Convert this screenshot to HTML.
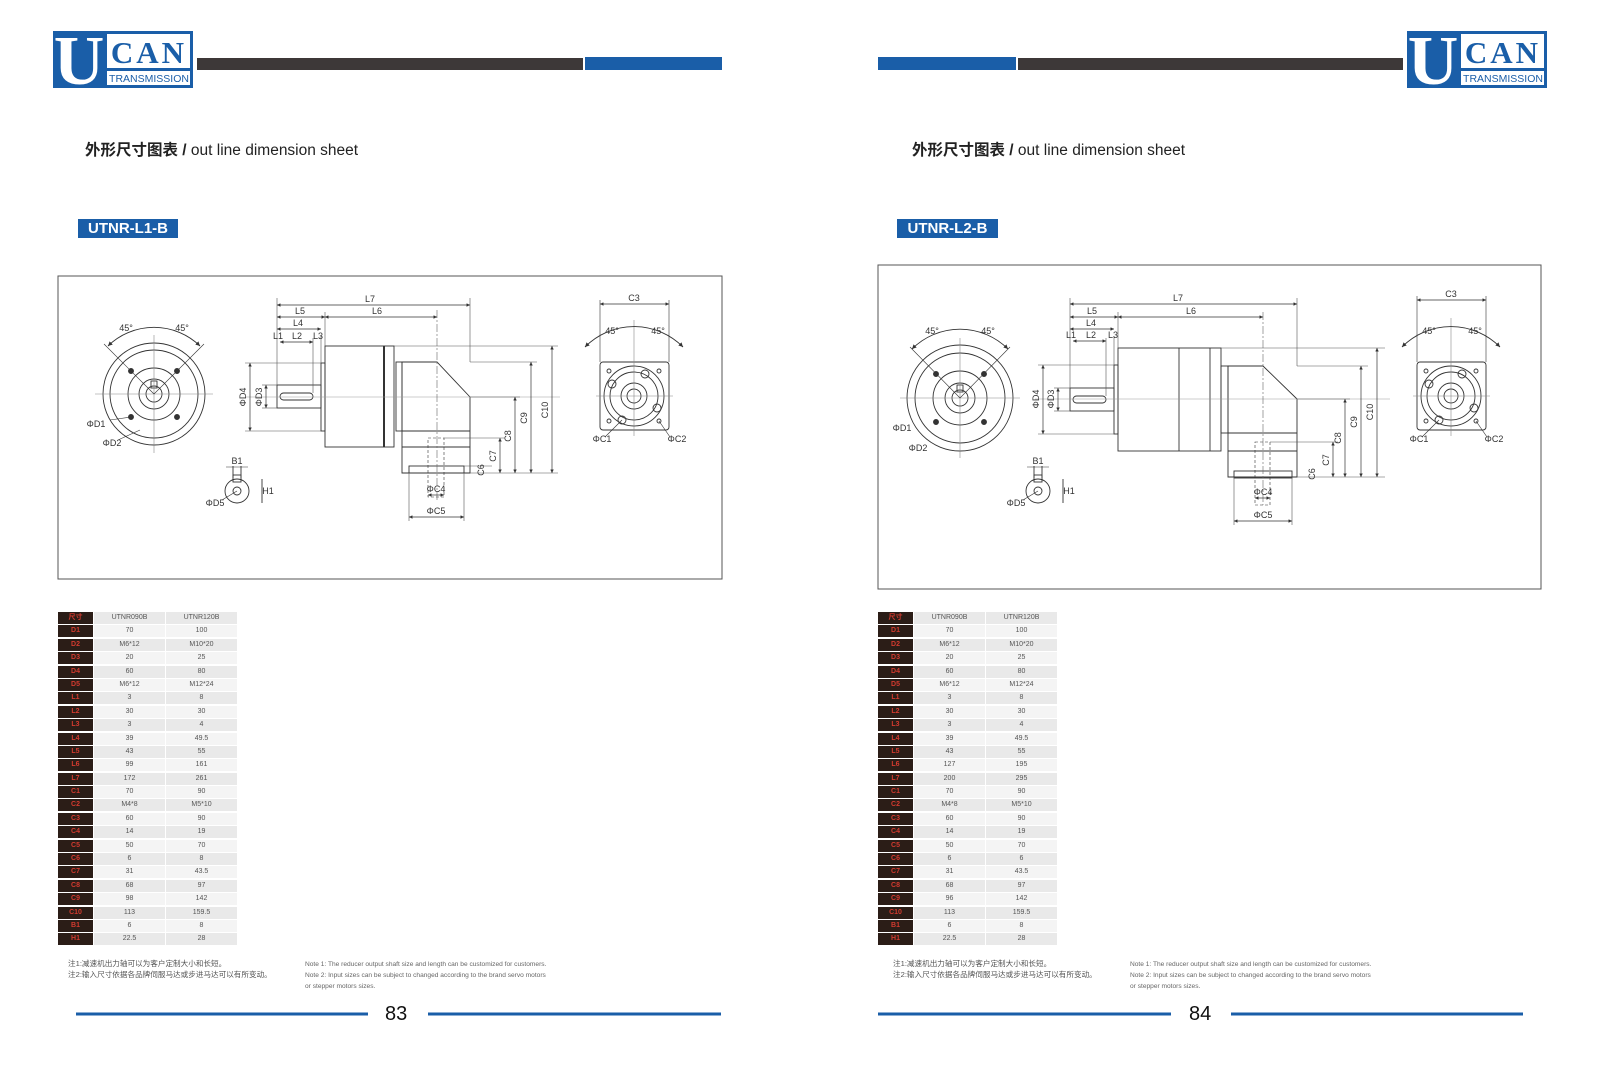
<!DOCTYPE html>
<html><head><meta charset="utf-8"><style>
body{margin:0;background:#fff;width:1600px;height:1085px;position:relative;overflow:hidden;font-family:"Liberation Sans","Noto Sans CJK SC",sans-serif}
svg{position:absolute;left:0;top:0}
.tb{position:absolute;top:612px;display:flex;flex-direction:column;gap:1.4px;font-size:7px;color:#555}
.r{display:flex;gap:1px;height:12px;line-height:12px;text-align:center}
.r div{background:#f4f4f4;width:71px}
.r:nth-child(odd) div{background:#e9e9e9}
.r div.k{background:#2b1d17;color:#d23a2e;width:35px;font-weight:bold}
.note{position:absolute;font-size:7.6px;color:#555;line-height:11px;white-space:nowrap}
.noteE{position:absolute;font-size:6.6px;color:#666;line-height:11px;white-space:nowrap}
.title{position:absolute;top:138px;font-size:15.5px;color:#222;white-space:nowrap}
.lab{position:absolute;top:219px;height:19px;background:#1a5ea8;color:#fff;font-size:15px;line-height:19px;text-align:center;font-weight:bold}
.pn{position:absolute;top:1003px;font-size:20px;color:#111;font-family:"Liberation Sans",sans-serif}
</style></head><body>
<svg width="1600" height="1085" viewBox="0 0 1600 1085" font-family="Liberation Sans, sans-serif">
<defs>
<marker id="a" viewBox="0 0 6 6" refX="6" refY="3" markerWidth="5" markerHeight="5" orient="auto-start-reverse"><path d="M0,0L6,3L0,6z" fill="#333"/></marker>
<g id="logo">
<rect x="0" y="0" width="140" height="57" fill="#1a5ea8"/>
<rect x="54" y="3" width="83" height="34" fill="#fff"/>
<rect x="54" y="40" width="83" height="14" fill="#fff"/>
<text x="26" y="53" font-family="Liberation Serif, serif" font-weight="bold" font-size="70" fill="#fff" text-anchor="middle">U</text>
<text x="96" y="32" font-family="Liberation Serif, serif" font-weight="bold" font-size="31" fill="#1a5ea8" text-anchor="middle" letter-spacing="3">CAN</text>
<text x="96" y="51" font-size="10.5" fill="#1a5ea8" text-anchor="middle">TRANSMISSION</text>
</g>
</defs>
<use href="#logo" x="53" y="31"/>
<rect x="197" y="58" width="386" height="12" fill="#3d3838"/>
<rect x="585" y="57" width="137" height="13" fill="#1a5ea8"/>
<rect x="878" y="57" width="138" height="13" fill="#1a5ea8"/>
<rect x="1018" y="58" width="385" height="12" fill="#3d3838"/>
<use href="#logo" x="1407" y="31"/>
<rect x="58" y="276" width="664" height="303" fill="none" stroke="#555" stroke-width="1"/>
<rect x="878" y="265" width="663" height="324" fill="none" stroke="#555" stroke-width="1"/>
<line x1="76" y1="1014" x2="368" y2="1014" stroke="#1a5ea8" stroke-width="3"/>
<line x1="428" y1="1014" x2="721" y2="1014" stroke="#1a5ea8" stroke-width="3"/>
<line x1="878" y1="1014" x2="1171" y2="1014" stroke="#1a5ea8" stroke-width="3"/>
<line x1="1231" y1="1014" x2="1523" y2="1014" stroke="#1a5ea8" stroke-width="3"/>

<g stroke="#333" stroke-width="0.9" fill="none" font-size="9" >
<circle cx="154" cy="394" r="51"/><circle cx="154" cy="394" r="44"/><circle cx="154" cy="394" r="26"/><circle cx="154" cy="394" r="15"/><circle cx="154" cy="394" r="8"/>
<rect x="151" y="381" width="6" height="7"/>
<g fill="#333"><circle cx="131" cy="371" r="2.5"/><circle cx="177" cy="371" r="2.5"/><circle cx="131" cy="417" r="2.5"/><circle cx="177" cy="417" r="2.5"/></g>
<line x1="95" y1="394" x2="213" y2="394" stroke="#888" stroke-width="0.6"/><line x1="154" y1="335" x2="154" y2="453" stroke="#888" stroke-width="0.6"/>
<path d="M108,346 A66,66 0 0 1 200,346" marker-start="url(#a)" marker-end="url(#a)"/>
<line x1="154" y1="394" x2="104" y2="344" stroke-width="0.6"/><line x1="154" y1="394" x2="204" y2="344" stroke-width="0.6"/>
<line x1="110" y1="420" x2="131" y2="417" stroke-width="0.6"/><line x1="118" y1="440" x2="140" y2="430" stroke-width="0.6"/>
<circle cx="237" cy="491" r="12"/><circle cx="237" cy="491" r="4"/><rect x="233" y="475" width="8" height="7"/>
<line x1="233" y1="466" x2="233" y2="478"/><line x1="241" y1="466" x2="241" y2="478"/><line x1="226" y1="467" x2="248" y2="467" stroke-width="0.6"/>
<line x1="262" y1="479" x2="262" y2="503"/><line x1="222" y1="500" x2="237" y2="491" stroke-width="0.6"/>
<rect x="277" y="385" width="44" height="23"/>
<rect x="280" y="393" width="33" height="7" rx="3.5"/>
<rect x="321" y="363" width="4" height="68"/>
<rect x="325" y="346" width="69" height="101"/>
<line x1="384" y1="346" x2="384" y2="447" stroke-width="2"/>
<rect x="396" y="362" width="6" height="69"/>
<path d="M402,362 H437 L470,397 V473 H402 Z"/>
<line x1="402" y1="431" x2="470" y2="431"/><line x1="402" y1="447" x2="470" y2="447"/>
<rect x="409" y="466" width="55" height="7"/>
<rect x="428" y="438" width="16" height="59" stroke-dasharray="3,2" stroke-width="0.6"/>
<line x1="245" y1="397" x2="560" y2="397" stroke="#999" stroke-width="0.5"/>
<line x1="437" y1="310" x2="437" y2="500" stroke="#666" stroke-width="0.6" stroke-dasharray="8,2,2,2"/>
<g stroke-width="0.6" stroke="#555">
<line x1="277" y1="298" x2="277" y2="385"/><line x1="470" y1="298" x2="470" y2="362"/><line x1="325" y1="312" x2="325" y2="346"/><line x1="321" y1="336" x2="321" y2="363"/><line x1="313" y1="338" x2="313" y2="393"/>
<line x1="394" y1="346" x2="558" y2="346"/><line x1="470" y1="362" x2="537" y2="362"/><line x1="470" y1="397" x2="520" y2="397"/><line x1="444" y1="438" x2="505" y2="438"/><line x1="470" y1="473" x2="558" y2="473"/><line x1="464" y1="466" x2="492" y2="466"/>
<line x1="245" y1="363" x2="321" y2="363"/><line x1="245" y1="431" x2="321" y2="431"/><line x1="262" y1="385" x2="277" y2="385"/><line x1="262" y1="408" x2="277" y2="408"/>
<line x1="409" y1="473" x2="409" y2="521"/><line x1="464" y1="473" x2="464" y2="521"/>
</g>
<g stroke-width="0.7" marker-start="url(#a)" marker-end="url(#a)">
<line x1="277" y1="305" x2="470" y2="305"/><line x1="277" y1="317" x2="325" y2="317"/><line x1="325" y1="317" x2="437" y2="317"/><line x1="277" y1="329" x2="321" y2="329"/><line x1="280" y1="342" x2="313" y2="342"/>
<line x1="250" y1="363" x2="250" y2="431"/><line x1="266" y1="385" x2="266" y2="408"/>
<line x1="552" y1="346" x2="552" y2="473"/><line x1="531" y1="362" x2="531" y2="473"/><line x1="515" y1="397" x2="515" y2="473"/><line x1="500" y1="438" x2="500" y2="473"/>
<line x1="428" y1="495" x2="444" y2="495"/><line x1="409" y1="517" x2="464" y2="517"/>
<line x1="600" y1="304" x2="669" y2="304"/>
</g>
<rect x="600" y="362" width="69" height="68" rx="3"/>
<circle cx="634" cy="396" r="30"/><circle cx="634" cy="396" r="24"/><circle cx="634" cy="396" r="13"/><circle cx="634" cy="396" r="7"/>
<circle cx="609" cy="371" r="2"/><circle cx="659" cy="371" r="2"/><circle cx="609" cy="421" r="2"/><circle cx="659" cy="421" r="2"/>
<circle cx="612" cy="384" r="4"/><circle cx="645" cy="374" r="4"/><circle cx="657" cy="408" r="4"/><circle cx="622" cy="420" r="4"/>
<line x1="596" y1="396" x2="673" y2="396" stroke="#888" stroke-width="0.6"/><line x1="634" y1="320" x2="634" y2="436" stroke="#888" stroke-width="0.6"/>
<line x1="600" y1="300" x2="600" y2="362" stroke-width="0.6"/><line x1="669" y1="300" x2="669" y2="362" stroke-width="0.6"/>
<path d="M585,347 A69,69 0 0 1 683,347" marker-start="url(#a)" marker-end="url(#a)"/>
<line x1="605" y1="437" x2="622" y2="420" stroke-width="0.6"/><line x1="670" y1="437" x2="659" y2="421" stroke-width="0.6"/>
</g>
<g font-size="9" fill="#333" text-anchor="middle" font-family="Liberation Sans Narrow, Liberation Sans, sans-serif">
<text x="370" y="302">L7</text><text x="377" y="314">L6</text><text x="300" y="314">L5</text><text x="298" y="326">L4</text><text x="297" y="339">L2</text><text x="278" y="339">L1</text><text x="318" y="339">L3</text>
<text x="126" y="331">45°</text><text x="182" y="331">45°</text><text x="96" y="427">ΦD1</text><text x="112" y="446">ΦD2</text>
<text x="237" y="464">B1</text><text x="268" y="494">H1</text><text x="215" y="506">ΦD5</text>
<text x="436" y="492">ΦC4</text><text x="436" y="514">ΦC5</text>
<text x="634" y="301">C3</text><text x="612" y="334">45°</text><text x="658" y="334">45°</text><text x="602" y="442">ΦC1</text><text x="677" y="442">ΦC2</text>
<text transform="translate(246,397) rotate(-90)">ΦD4</text><text transform="translate(262,397) rotate(-90)">ΦD3</text>
<text transform="translate(548,410) rotate(-90)">C10</text><text transform="translate(527,418) rotate(-90)">C9</text><text transform="translate(511,436) rotate(-90)">C8</text><text transform="translate(496,456) rotate(-90)">C7</text><text transform="translate(484,470) rotate(-90)">C6</text>
</g>

<g stroke="#333" stroke-width="0.9" fill="none">
<circle cx="960" cy="398" r="53"/><circle cx="960" cy="398" r="45"/><circle cx="960" cy="398" r="27"/><circle cx="960" cy="398" r="15"/><circle cx="960" cy="398" r="8"/>
<rect x="957" y="385" width="6" height="7"/>
<g fill="#333"><circle cx="936" cy="374" r="2.5"/><circle cx="984" cy="374" r="2.5"/><circle cx="936" cy="422" r="2.5"/><circle cx="984" cy="422" r="2.5"/></g>
<line x1="900" y1="398" x2="1020" y2="398" stroke="#888" stroke-width="0.6"/><line x1="960" y1="338" x2="960" y2="458" stroke="#888" stroke-width="0.6"/>
<path d="M912,349 A68,68 0 0 1 1008,349" marker-start="url(#a)" marker-end="url(#a)"/>
<line x1="960" y1="398" x2="910" y2="347" stroke-width="0.6"/><line x1="960" y1="398" x2="1010" y2="347" stroke-width="0.6"/>
<circle cx="1038" cy="491" r="12"/><circle cx="1038" cy="491" r="4"/><rect x="1034" y="475" width="8" height="7"/>
<line x1="1034" y1="466" x2="1034" y2="478"/><line x1="1042" y1="466" x2="1042" y2="478"/><line x1="1027" y1="467" x2="1049" y2="467" stroke-width="0.6"/>
<line x1="1063" y1="479" x2="1063" y2="503"/><line x1="1023" y1="500" x2="1038" y2="491" stroke-width="0.6"/>
<rect x="1070" y="388" width="44" height="23"/>
<rect x="1073" y="396" width="33" height="7" rx="3.5"/>
<rect x="1114" y="365" width="4" height="69"/>
<rect x="1118" y="348" width="103" height="103"/>
<line x1="1179" y1="348" x2="1179" y2="451"/><line x1="1210" y1="348" x2="1210" y2="451"/>
<rect x="1221" y="366" width="7" height="67"/>
<path d="M1228,366 H1263 L1297,399 V477 H1228 Z"/>
<line x1="1228" y1="433" x2="1297" y2="433"/><line x1="1228" y1="451" x2="1297" y2="451"/>
<rect x="1234" y="471" width="58" height="7"/>
<rect x="1255" y="442" width="15" height="63" stroke-dasharray="3,2" stroke-width="0.6"/>
<line x1="1035" y1="399" x2="1390" y2="399" stroke="#999" stroke-width="0.5"/>
<line x1="1263" y1="312" x2="1263" y2="505" stroke="#666" stroke-width="0.6" stroke-dasharray="8,2,2,2"/>
<g stroke-width="0.6" stroke="#555">
<line x1="1070" y1="298" x2="1070" y2="388"/><line x1="1297" y1="298" x2="1297" y2="366"/><line x1="1118" y1="312" x2="1118" y2="348"/><line x1="1114" y1="336" x2="1114" y2="365"/><line x1="1106" y1="338" x2="1106" y2="396"/>
<line x1="1221" y1="348" x2="1385" y2="348"/><line x1="1297" y1="366" x2="1368" y2="366"/><line x1="1297" y1="399" x2="1350" y2="399"/><line x1="1270" y1="442" x2="1338" y2="442"/><line x1="1297" y1="477" x2="1385" y2="477"/>
<line x1="1038" y1="365" x2="1114" y2="365"/><line x1="1038" y1="434" x2="1114" y2="434"/><line x1="1054" y1="388" x2="1070" y2="388"/><line x1="1054" y1="411" x2="1070" y2="411"/>
<line x1="1234" y1="477" x2="1234" y2="525"/><line x1="1292" y1="477" x2="1292" y2="525"/>
</g>
<g stroke-width="0.7" marker-start="url(#a)" marker-end="url(#a)">
<line x1="1070" y1="304" x2="1297" y2="304"/><line x1="1070" y1="317" x2="1118" y2="317"/><line x1="1118" y1="317" x2="1263" y2="317"/><line x1="1070" y1="329" x2="1114" y2="329"/><line x1="1073" y1="341" x2="1106" y2="341"/>
<line x1="1043" y1="365" x2="1043" y2="434"/><line x1="1058" y1="388" x2="1058" y2="411"/>
<line x1="1377" y1="348" x2="1377" y2="477"/><line x1="1361" y1="366" x2="1361" y2="477"/><line x1="1345" y1="399" x2="1345" y2="477"/><line x1="1333" y1="442" x2="1333" y2="477"/>
<line x1="1255" y1="498" x2="1270" y2="498"/><line x1="1234" y1="521" x2="1292" y2="521"/>
<line x1="1417" y1="300" x2="1486" y2="300"/>
</g>
<rect x="1417" y="362" width="69" height="68" rx="3"/>
<circle cx="1451" cy="396" r="30"/><circle cx="1451" cy="396" r="24"/><circle cx="1451" cy="396" r="13"/><circle cx="1451" cy="396" r="7"/>
<circle cx="1426" cy="371" r="2"/><circle cx="1476" cy="371" r="2"/><circle cx="1426" cy="421" r="2"/><circle cx="1476" cy="421" r="2"/>
<circle cx="1429" cy="384" r="4"/><circle cx="1462" cy="374" r="4"/><circle cx="1474" cy="408" r="4"/><circle cx="1439" cy="420" r="4"/>
<line x1="1413" y1="396" x2="1490" y2="396" stroke="#888" stroke-width="0.6"/><line x1="1451" y1="318" x2="1451" y2="436" stroke="#888" stroke-width="0.6"/>
<line x1="1417" y1="296" x2="1417" y2="362" stroke-width="0.6"/><line x1="1486" y1="296" x2="1486" y2="362" stroke-width="0.6"/>
<path d="M1402,347 A69,69 0 0 1 1500,347" marker-start="url(#a)" marker-end="url(#a)"/>
<line x1="1422" y1="437" x2="1439" y2="420" stroke-width="0.6"/><line x1="1487" y1="437" x2="1476" y2="421" stroke-width="0.6"/>
</g>
<g font-size="9" fill="#333" text-anchor="middle" font-family="Liberation Sans Narrow, Liberation Sans, sans-serif">
<text x="1178" y="301">L7</text><text x="1191" y="314">L6</text><text x="1092" y="314">L5</text><text x="1091" y="326">L4</text><text x="1091" y="338">L2</text><text x="1071" y="338">L1</text><text x="1113" y="338">L3</text>
<text x="932" y="334">45°</text><text x="988" y="334">45°</text><text x="902" y="431">ΦD1</text><text x="918" y="451">ΦD2</text>
<text x="1038" y="464">B1</text><text x="1069" y="494">H1</text><text x="1016" y="506">ΦD5</text>
<text x="1263" y="495">ΦC4</text><text x="1263" y="518">ΦC5</text>
<text x="1451" y="297">C3</text><text x="1429" y="334">45°</text><text x="1475" y="334">45°</text><text x="1419" y="442">ΦC1</text><text x="1494" y="442">ΦC2</text>
<text transform="translate(1039,399) rotate(-90)">ΦD4</text><text transform="translate(1054,399) rotate(-90)">ΦD3</text>
<text transform="translate(1373,412) rotate(-90)">C10</text><text transform="translate(1357,422) rotate(-90)">C9</text><text transform="translate(1341,438) rotate(-90)">C8</text><text transform="translate(1329,460) rotate(-90)">C7</text><text transform="translate(1315,474) rotate(-90)">C6</text>
</g>
</svg>

<div class="title" style="left:85px"><b>外形尺寸图表 /</b> out line dimension sheet</div>
<div class="title" style="left:912px"><b>外形尺寸图表 /</b> out line dimension sheet</div>
<div class="lab" style="left:78px;width:100px">UTNR-L1-B</div>
<div class="lab" style="left:897px;width:101px">UTNR-L2-B</div>

<div class="tb" style="left:58px">
<div class="r"><div class="k">尺寸</div><div>UTNR090B</div><div>UTNR120B</div></div>
<div class="r"><div class="k">D1</div><div>70</div><div>100</div></div>
<div class="r"><div class="k">D2</div><div>M6*12</div><div>M10*20</div></div>
<div class="r"><div class="k">D3</div><div>20</div><div>25</div></div>
<div class="r"><div class="k">D4</div><div>60</div><div>80</div></div>
<div class="r"><div class="k">D5</div><div>M6*12</div><div>M12*24</div></div>
<div class="r"><div class="k">L1</div><div>3</div><div>8</div></div>
<div class="r"><div class="k">L2</div><div>30</div><div>30</div></div>
<div class="r"><div class="k">L3</div><div>3</div><div>4</div></div>
<div class="r"><div class="k">L4</div><div>39</div><div>49.5</div></div>
<div class="r"><div class="k">L5</div><div>43</div><div>55</div></div>
<div class="r"><div class="k">L6</div><div>99</div><div>161</div></div>
<div class="r"><div class="k">L7</div><div>172</div><div>261</div></div>
<div class="r"><div class="k">C1</div><div>70</div><div>90</div></div>
<div class="r"><div class="k">C2</div><div>M4*8</div><div>M5*10</div></div>
<div class="r"><div class="k">C3</div><div>60</div><div>90</div></div>
<div class="r"><div class="k">C4</div><div>14</div><div>19</div></div>
<div class="r"><div class="k">C5</div><div>50</div><div>70</div></div>
<div class="r"><div class="k">C6</div><div>6</div><div>8</div></div>
<div class="r"><div class="k">C7</div><div>31</div><div>43.5</div></div>
<div class="r"><div class="k">C8</div><div>68</div><div>97</div></div>
<div class="r"><div class="k">C9</div><div>98</div><div>142</div></div>
<div class="r"><div class="k">C10</div><div>113</div><div>159.5</div></div>
<div class="r"><div class="k">B1</div><div>6</div><div>8</div></div>
<div class="r"><div class="k">H1</div><div>22.5</div><div>28</div></div>
</div>

<div class="tb" style="left:878px">
<div class="r"><div class="k">尺寸</div><div>UTNR090B</div><div>UTNR120B</div></div>
<div class="r"><div class="k">D1</div><div>70</div><div>100</div></div>
<div class="r"><div class="k">D2</div><div>M6*12</div><div>M10*20</div></div>
<div class="r"><div class="k">D3</div><div>20</div><div>25</div></div>
<div class="r"><div class="k">D4</div><div>60</div><div>80</div></div>
<div class="r"><div class="k">D5</div><div>M6*12</div><div>M12*24</div></div>
<div class="r"><div class="k">L1</div><div>3</div><div>8</div></div>
<div class="r"><div class="k">L2</div><div>30</div><div>30</div></div>
<div class="r"><div class="k">L3</div><div>3</div><div>4</div></div>
<div class="r"><div class="k">L4</div><div>39</div><div>49.5</div></div>
<div class="r"><div class="k">L5</div><div>43</div><div>55</div></div>
<div class="r"><div class="k">L6</div><div>127</div><div>195</div></div>
<div class="r"><div class="k">L7</div><div>200</div><div>295</div></div>
<div class="r"><div class="k">C1</div><div>70</div><div>90</div></div>
<div class="r"><div class="k">C2</div><div>M4*8</div><div>M5*10</div></div>
<div class="r"><div class="k">C3</div><div>60</div><div>90</div></div>
<div class="r"><div class="k">C4</div><div>14</div><div>19</div></div>
<div class="r"><div class="k">C5</div><div>50</div><div>70</div></div>
<div class="r"><div class="k">C6</div><div>6</div><div>6</div></div>
<div class="r"><div class="k">C7</div><div>31</div><div>43.5</div></div>
<div class="r"><div class="k">C8</div><div>68</div><div>97</div></div>
<div class="r"><div class="k">C9</div><div>96</div><div>142</div></div>
<div class="r"><div class="k">C10</div><div>113</div><div>159.5</div></div>
<div class="r"><div class="k">B1</div><div>6</div><div>8</div></div>
<div class="r"><div class="k">H1</div><div>22.5</div><div>28</div></div>
</div>

<div class="note" style="left:68px;top:958px">注1:减速机出力轴可以为客户定制大小和长短。<br>注2:输入尺寸依据各品牌伺服马达或步进马达可以有所变动。</div>
<div class="noteE" style="left:305px;top:959px">Note 1: The reducer output shaft size and length can be customized for customers.<br>Note 2: Input sizes can be subject to changed according to the brand servo motors<br>or stepper motors sizes.</div>
<div class="note" style="left:893px;top:958px">注1:减速机出力轴可以为客户定制大小和长短。<br>注2:输入尺寸依据各品牌伺服马达或步进马达可以有所变动。</div>
<div class="noteE" style="left:1130px;top:959px">Note 1: The reducer output shaft size and length can be customized for customers.<br>Note 2: Input sizes can be subject to changed according to the brand servo motors<br>or stepper motors sizes.</div>

<div class="pn" style="left:385px">83</div>
<div class="pn" style="left:1189px">84</div>
</body></html>
